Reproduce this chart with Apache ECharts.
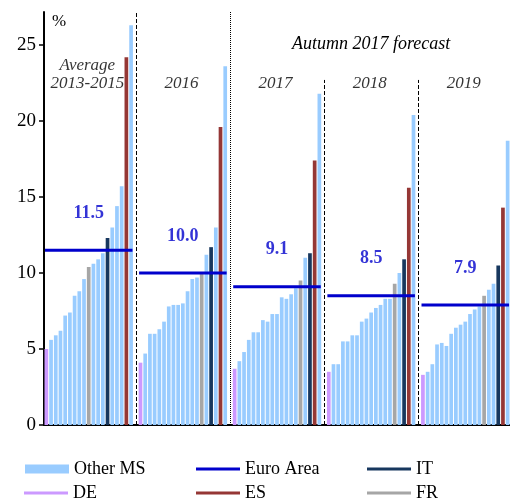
<!DOCTYPE html>
<html>
<head>
<meta charset="utf-8">
<script src="https://cdn.jsdelivr.net/npm/echarts@6/dist/echarts.min.js"></script>
<style>
html,body{margin:0;padding:0;background:#fff;}
#chart{width:510px;height:498px;}
</style>
</head>
<body>
<div id="chart"></div>
<script>
// ---- data ----
const periodLabels = ['Average\n2013-2015', '2016', '2017', '2018', '2019'];
const euroArea = [11.5, 10.0, 9.1, 8.5, 7.9];

// member-state codes per bar (sorted as in the chart): DE, FR, IT, ES, MS = other member states
const codesAvg1315 = ['DE','MS','MS','MS','MS','MS','MS','MS','MS','FR','MS','MS','MS','IT','MS','MS','MS','ES','MS'];
const valuesAvg1315 = [5.0,5.6,5.9,6.2,7.2,7.4,8.5,8.8,9.6,10.4,10.6,10.9,11.3,12.3,13.0,14.4,15.7,24.2,26.3];

const codes2016 = ['DE','MS','MS','MS','MS','MS','MS','MS','MS','MS','MS','MS','MS','FR','MS','IT','MS','ES','MS'];
const values2016 = [4.1,4.7,6.0,6.0,6.3,6.8,7.8,7.9,7.9,8.0,8.8,9.6,9.7,10.0,11.2,11.7,13.0,19.6,23.6];

const codes2017 = ['DE','MS','MS','MS','MS','MS','MS','MS','MS','MS','MS','MS','MS','MS','FR','MS','IT','ES','MS'];
const values2017 = [3.7,4.2,4.8,5.6,6.1,6.1,6.9,6.8,7.3,7.3,8.4,8.3,8.6,9.0,9.5,11.0,11.3,17.4,21.8];

const codes2018 = ['DE','MS','MS','MS','MS','MS','MS','MS','MS','MS','MS','MS','MS','MS','FR','MS','IT','ES','MS'];
const values2018 = [3.5,4.0,4.0,5.5,5.5,5.9,5.9,6.8,7.0,7.4,7.7,7.9,8.3,8.3,9.3,10.0,10.9,15.6,20.4];

const codes2019 = ['DE','MS','MS','MS','MS','MS','MS','MS','MS','MS','MS','MS','MS','FR','MS','MS','IT','ES','MS'];
const values2019 = [3.3,3.5,4.0,5.3,5.4,5.2,6.0,6.4,6.6,6.8,7.3,7.6,7.8,8.5,8.9,9.3,10.5,14.3,18.7];

const yTicks = [0, 5, 10, 15, 20, 25];

// ---- build ----
const groupCodes = [codesAvg1315, codes2016, codes2017, codes2018, codes2019];
const groupValues = [valuesAvg1315, values2016, values2017, values2018, values2019];
const perGroup = 20;               // 19 bars + 1 gap slot
const nSlots = perGroup * groupValues.length - 1;
const slots = [];
for (let i = 0; i < nSlots; i++) slots.push(String(i));

const seriesDefs = [
  {code: 'MS', name: 'Other MS', color: '#99CCFF'},
  {code: 'DE', name: 'DE', color: '#CC99FF'},
  {code: 'FR', name: 'FR', color: '#A6A6A6'},
  {code: 'IT', name: 'IT', color: '#17375E'},
  {code: 'ES', name: 'ES', color: '#953735'}
];
const FONT = 'Liberation Serif';
const EA_COLOR = '#0000CC';

const barSeries = seriesDefs.map(def => {
  const d = new Array(nSlots).fill('-');
  groupValues.forEach((vals, g) => {
    vals.forEach((v, i) => { if (groupCodes[g][i] === def.code) d[g * perGroup + i] = v; });
  });
  return {
    name: def.name, type: 'bar', data: d, barWidth: 3.7, barGap: '-100%',
    itemStyle: {color: def.color}, silent: true, animation: false
  };
});

const eaLine = [];
euroArea.forEach((v, g) => {
  eaLine.push([g * perGroup + 0.2, v]);
  eaLine.push([g * perGroup + 18.8, v]);
  eaLine.push([g * perGroup + 19.5, '-']);
});

const yTop = 27.17;
const sepData = [];
for (let g = 1; g < groupValues.length; g++) {
  const x = g * perGroup - 0.5;
  const top = g <= 2 ? yTop : 22.7;
  const type = g === 2 ? [1, 1] : [4, 2];
  sepData.push([{coord: [x, 0], lineStyle: {type: type, color: '#000', width: 1}}, {coord: [x, top]}]);
}

const option = {
  animation: false,
  textStyle: {fontFamily: FONT},
  title: [
    {text: 'Autumn 2017 forecast', left: 287, top: 30,
     textStyle: {fontFamily: FONT, fontSize: 18, fontStyle: 'italic', fontWeight: 'normal', color: '#000'}},
    {text: '%', left: 47, top: 8,
     textStyle: {fontFamily: FONT, fontSize: 17, fontWeight: 'normal', color: '#000'}}
  ],
  grid: {left: 44, right: 0, top: 12, bottom: 73, containLabel: false},
  xAxis: [
    {type: 'category', data: slots, boundaryGap: true,
     axisLine: {show: true, lineStyle: {color: '#000', width: 2}},
     axisTick: {show: false}, axisLabel: {show: false}, splitLine: {show: false}},
    {type: 'value', min: 0, max: nSlots, show: false}
  ],
  yAxis: {
    type: 'value', min: 0, max: yTop, interval: 5,
    axisLine: {show: true, lineStyle: {color: '#000', width: 2}},
    axisTick: {show: true, inside: false, length: 5, lineStyle: {color: '#000', width: 1.5}, customValues: yTicks},
    axisLabel: {color: '#000', fontFamily: FONT, fontSize: 19, margin: 8, customValues: yTicks},
    splitLine: {show: false}
  },
  legend: [
    {name: 'Other MS', left: 25, top: 460, h: 9},
    {name: 'Euro Area', left: 196, top: 460, h: 3},
    {name: 'IT', left: 367, top: 460, h: 3},
    {name: 'DE', left: 24, top: 484, h: 3},
    {name: 'ES', left: 196, top: 484, h: 3},
    {name: 'FR', left: 367, top: 484, h: 3}
  ].map(l => ({
    data: [{name: l.name, icon: 'rect'}], left: l.left, top: l.top,
    itemWidth: 44, itemHeight: l.h, selectedMode: false, padding: 0,
    textStyle: {fontFamily: FONT, fontSize: 18, color: '#000'}
  })),
  series: barSeries.concat([
    {name: 'Euro Area', type: 'line', xAxisIndex: 1, data: eaLine, showSymbol: false, symbol: 'none',
     connectNulls: false, lineStyle: {color: EA_COLOR, width: 3, cap: 'butt'}, itemStyle: {color: EA_COLOR},
     silent: true, z: 5,
     markLine: {silent: true, symbol: 'none', label: {show: false}, data: sepData, animation: false}},
    {name: 'eaLabels', type: 'scatter', xAxisIndex: 1, symbolSize: 0, silent: true, z: 6,
     data: euroArea.map((v, g) => [g * perGroup + 9.5, v]),
     label: {show: true, position: 'top', distance: 28, color: EA_COLOR, fontFamily: FONT, fontSize: 18, fontWeight: 'bold',
             formatter: p => p.value[1].toFixed(1)}},
    {name: 'periodLabels', type: 'scatter', xAxisIndex: 1, symbolSize: 0, silent: true, z: 6,
     data: periodLabels.map((t, g) => ({value: [g * perGroup + 9.2, 21.9], label: {formatter: t}})),
     label: {show: true, position: 'top', distance: 0, color: '#000', fontFamily: FONT, fontSize: 17,
             fontStyle: 'italic', lineHeight: 18}}
  ])
};

const chart = echarts.init(document.getElementById('chart'), null, {renderer: 'canvas'});
chart.setOption(option);
</script>
</body>
</html>
